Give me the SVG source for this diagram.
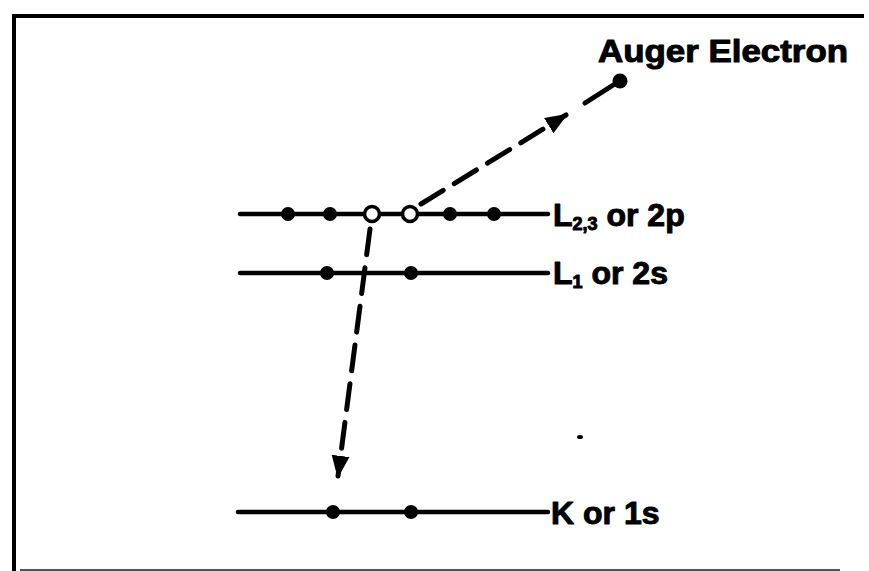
<svg xmlns="http://www.w3.org/2000/svg" width="869" height="571" viewBox="0 0 869 571">
<defs>
<style>
.lvl{stroke:#000;stroke-width:4.5;fill:none;stroke-linecap:round}
.dot{fill:#000}
.hole{fill:#fff;stroke:#000;stroke-width:3.5}
.dash{stroke:#000;stroke-width:5;fill:none;stroke-dasharray:26 13;stroke-linecap:round}
.solid{stroke:#000;stroke-width:5;fill:none;stroke-linecap:round}
.lbl{font-family:"Liberation Sans",Arial,sans-serif;font-weight:bold;font-size:32px;fill:#000;stroke:#000;stroke-width:1;stroke-linejoin:round}
.sub{font-size:18px}
</style>
<marker id="arr" viewBox="0 0 10 10" refX="9" refY="5" markerWidth="4.5" markerHeight="4.5" markerUnits="strokeWidth" orient="auto">
<path d="M0,1 L10,5 L0,9 Z" fill="#000"/>
</marker>
</defs>
<rect width="869" height="571" fill="#fff"/>
<g id="frame">
<path d="M14,571 V16 H864" stroke="#000" stroke-width="4" fill="none"/>
<path d="M20,570 H840" stroke="#555" stroke-width="2" fill="none"/>
</g>
<g id="level-L23">
<line class="lvl" x1="240" y1="214" x2="548" y2="214"/>
<circle class="dot" cx="288" cy="214" r="7"/>
<circle class="dot" cx="330" cy="214" r="7"/>
<circle class="hole" cx="372" cy="214" r="7.5"/>
<circle class="hole" cx="410" cy="214" r="7.5"/>
<circle class="dot" cx="450" cy="214" r="7"/>
<circle class="dot" cx="494" cy="214" r="7"/>
<text class="lbl" x="553" y="226">L<tspan class="sub" dy="4">2,3</tspan><tspan dy="-4"> or 2p</tspan></text>
</g>
<g id="level-L1">
<line class="lvl" x1="240" y1="273" x2="548" y2="273"/>
<circle class="dot" cx="327" cy="273" r="7"/>
<circle class="dot" cx="411" cy="273" r="7"/>
<text class="lbl" x="553" y="284">L<tspan class="sub" dy="4">1</tspan><tspan dy="-4"> or 2s</tspan></text>
</g>
<g id="level-K">
<line class="lvl" x1="238" y1="512" x2="548" y2="512"/>
<circle class="dot" cx="333" cy="512" r="7"/>
<circle class="dot" cx="411" cy="512" r="7"/>
<text class="lbl" x="551" y="524">K or 1s</text>
</g>
<g id="auger-electron">
<circle class="dot" cx="620" cy="81" r="7.5"/>
<text class="lbl" x="598" y="62" textLength="250" lengthAdjust="spacingAndGlyphs">Auger Electron</text>
</g>
<g id="connectors">
<path class="dash" d="M421,204 L566,115" marker-end="url(#arr)"/>
<path class="solid" d="M585,103 L618,82"/>
<path class="dash" d="M370,229 L338,476" marker-end="url(#arr)"/>
</g>
<ellipse cx="580" cy="437" rx="3" ry="2" fill="#000"/>
</svg>
